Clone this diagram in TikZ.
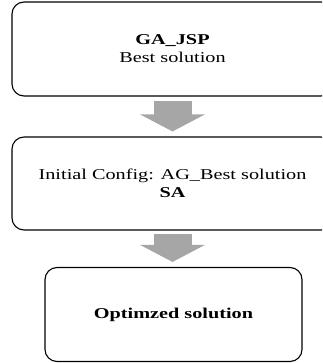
\documentclass[tikz,border=0pt]{standalone}
\usepackage{fontspec}
\setmainfont{Liberation Serif}
\usetikzlibrary{arrows.meta}
\newcommand{\sxx}[1]{\scalebox{1.35}[1]{#1}}
\tikzset{
  box/.style={draw=black, line width=1.1pt, rounded corners=12pt, align=center,
    font=\fontsize{15}{18}\selectfont, inner sep=0pt},
  fatarrow/.style={draw=arrowgray, line width=38pt,
    -{Triangle[width=64pt,length=17pt]}, shorten >=0pt}
}
\definecolor{arrowgray}{HTML}{A6A6A6}
\begin{document}
\begin{tikzpicture}[x=1pt,y=-1pt]
\useasboundingbox (0,0) rectangle (322,363);
\begin{scope}
\clip (0,0) rectangle (322,363);
\node[box, minimum width=321pt, minimum height=94pt] (b1) at (172.5,49)
  {\sxx{\textbf{GA\_JSP}}\\\sxx{Best solution}};
\node[box, minimum width=321pt, minimum height=93pt] (b2) at (172.5,183.5)
  {\sxx{Initial Config: AG\_Best solution}\\\sxx{\textbf{SA}}};
\node[box, minimum width=257pt, minimum height=94pt] (b3) at (173.5,314.5)
  {\sxx{\textbf{Optimzed solution}}};
\draw[fatarrow] ([yshift=-4pt]b1.south) -- ([yshift=5pt]b2.north);
\draw[fatarrow] ([yshift=-3pt]b2.south) -- ([yshift=5pt]b3.north -| b2.south);
\end{scope}
\end{tikzpicture}
\end{document}
